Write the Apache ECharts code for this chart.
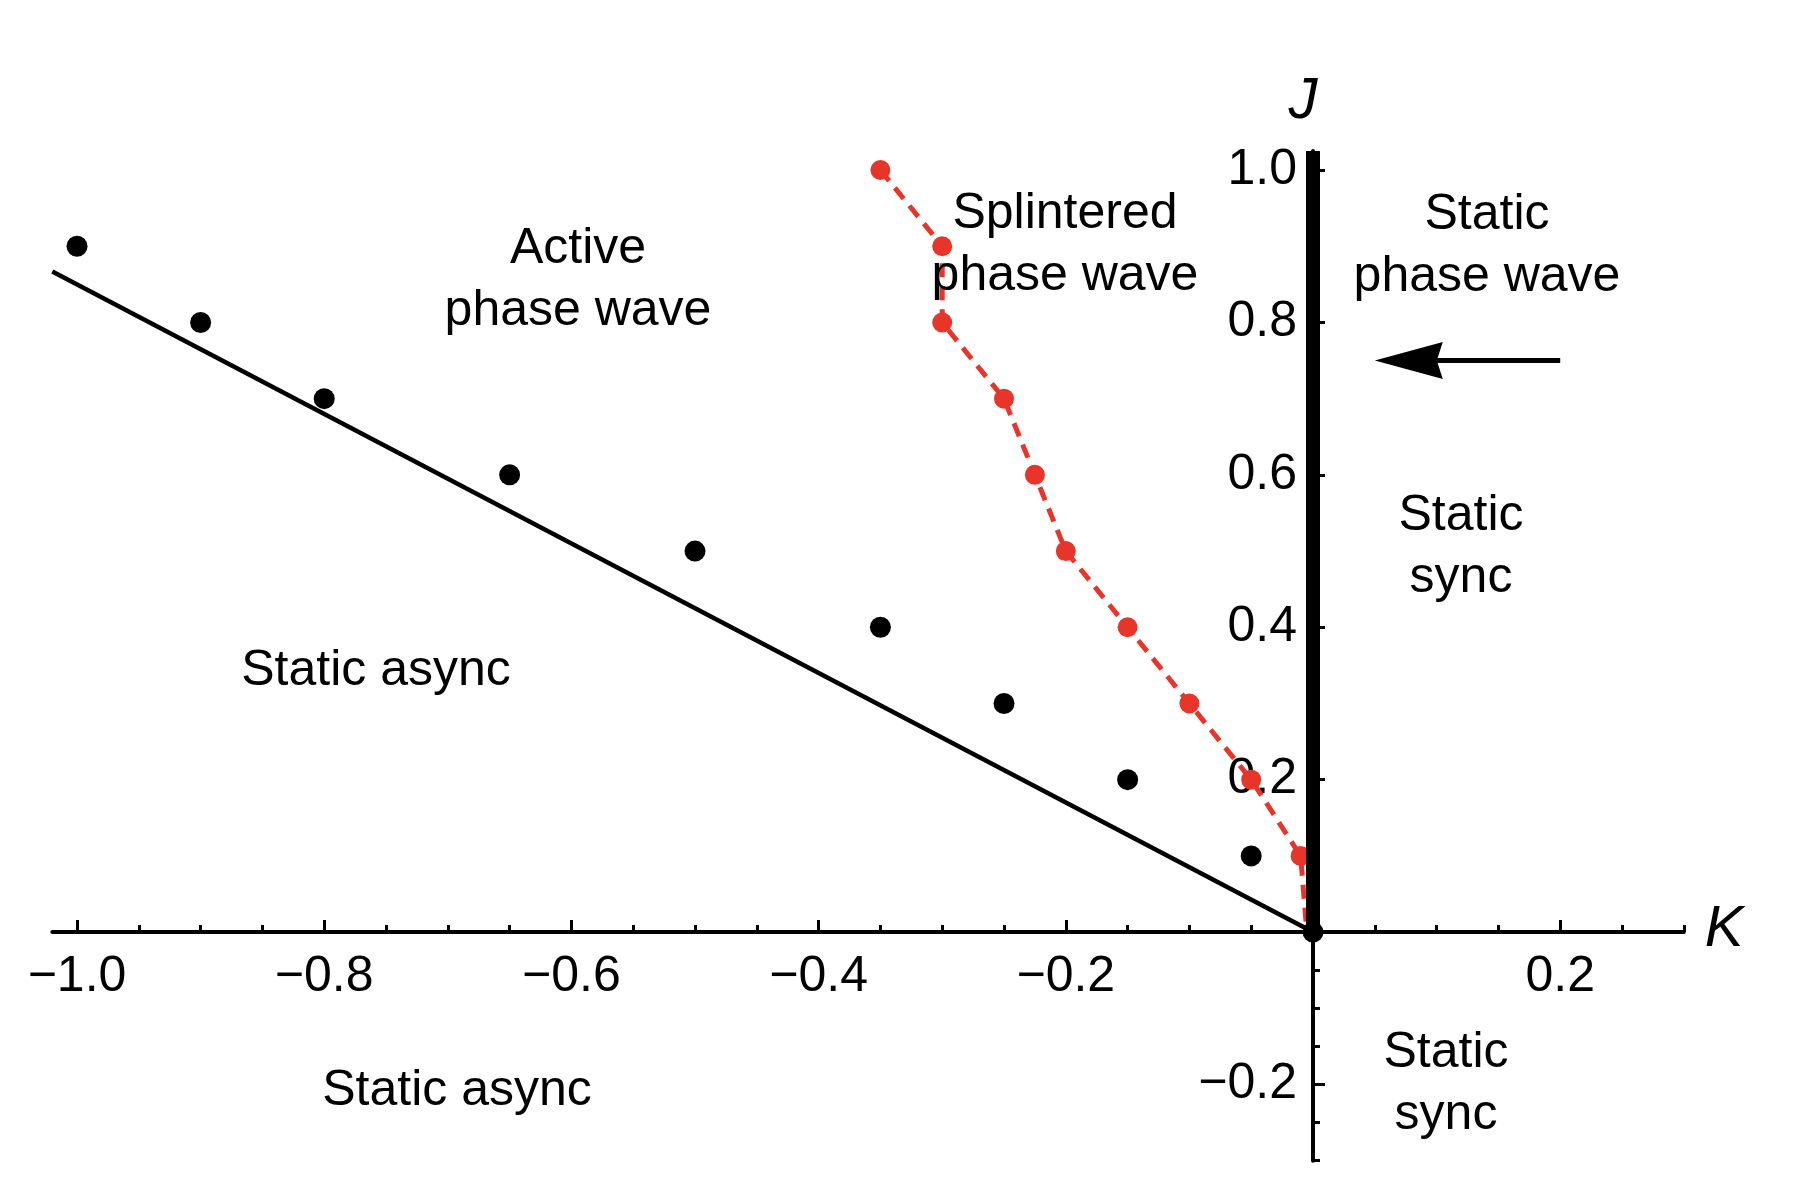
<!DOCTYPE html>
<html>
<head>
<meta charset="utf-8">
<script src="https://cdn.jsdelivr.net/npm/echarts@6/dist/echarts.min.js"></script>
<style>
html,body{margin:0;padding:0;background:#fff;}
#chart{width:1812px;height:1202px;}
</style>
</head>
<body>
<div id="chart"></div>
<script>
// ---- data ----
var blackK = [-1.0, -0.9, -0.8, -0.65, -0.5, -0.35, -0.25, -0.15, -0.05, 0];
var blackJ = [0.9, 0.8, 0.7, 0.6, 0.5, 0.4, 0.3, 0.2, 0.1, 0];
var redK = [-0.35, -0.3, -0.3, -0.25, -0.225, -0.2, -0.15, -0.1, -0.05, -0.01];
var redJ = [1.0, 0.9, 0.8, 0.7, 0.6, 0.5, 0.4, 0.3, 0.2, 0.1];
var redEnd = [-0.005, 0];
var boundaryK = [-1.02, 0];
var boundaryJ = [0.867, 0];
var syncBarK = [0, 0];
var syncBarJ = [0, 1.025];
var arrowFrom = [0.2, 0.75];
var arrowTo = [0.05, 0.75];
var xMajor = [-1.0, -0.8, -0.6, -0.4, -0.2, 0, 0.2];
var xLabels = [-1.0, -0.8, -0.6, -0.4, -0.2, 0.2];
var xMinor = [-0.95, -0.9, -0.85, -0.75, -0.7, -0.65, -0.55, -0.5, -0.45, -0.35, -0.3, -0.25, -0.15, -0.1, -0.05, 0.05, 0.1, 0.15, 0.25, 0.3];
var yMajor = [-0.2, 0, 0.2, 0.4, 0.6, 0.8, 1.0];
var yLabels = [-0.2, 0.2, 0.4, 0.6, 0.8, 1.0];
var yMinor = [-0.3, -0.25, -0.15, -0.1, -0.05, 0.05, 0.1, 0.15, 0.25, 0.3, 0.35, 0.45, 0.5, 0.55, 0.65, 0.7, 0.75, 0.85, 0.9, 0.95];

function zip(a, b) { return a.map(function (v, i) { return [v, b[i]]; }); }
function fmt(v) { return (v < 0 ? '\u2212' : '') + Math.abs(v).toFixed(1); }

var FONT = "'Liberation Sans', Arial, Helvetica, sans-serif";
var RED = '#E8352A';

// grid layout (pixels)
var G = { left: 52.3, top: 151, width: 1631.5, height: 1009.7 };
var X_MIN = -1.02, X_MAX = 0.3, Y_MIN = -0.3, Y_MAX = 1.025;
// offsets that put each axis on the other's zero
var xZeroPx = G.left + (0 - X_MIN) / (X_MAX - X_MIN) * G.width;
var yZeroPx = G.top + (Y_MAX - 0) / (Y_MAX - Y_MIN) * G.height;
var xAxisOffset = -(G.top + G.height - yZeroPx);
var yAxisOffset = -(xZeroPx - G.left);

var chart = echarts.init(document.getElementById('chart'));

var redData = zip(redK, redJ);
redData.push({ value: redEnd, symbol: 'none' });

function mkAxis(min, max, pos, offset, major, labels, tickLen, lineShow, margin) {
  return {
    type: 'value', min: min, max: max, position: pos, offset: offset,
    splitLine: { show: false },
    axisLine: { show: lineShow, onZero: false, lineStyle: { color: '#000', width: 4 } },
    axisTick: { show: true, inside: true, length: tickLen, customValues: major, lineStyle: { color: '#000', width: 3 } },
    axisLabel: labels ? { show: true, customValues: labels, formatter: fmt, fontSize: 50, fontFamily: FONT, color: '#000', margin: margin } : { show: false }
  };
}

function txt(text, x, y, size, italic) {
  return {
    type: 'text', x: x, y: y, z: 100,
    style: {
      text: text, fill: '#000', align: 'center', verticalAlign: 'middle',
      font: (italic ? 'italic ' : '') + size + 'px ' + FONT, lineHeight: 62
    }
  };
}

var option = {
  backgroundColor: '#fff',
  animation: false,
  grid: { left: G.left, top: G.top, width: G.width, height: G.height, containLabel: false, outerBoundsMode: 'none' },
  xAxis: [
    mkAxis(X_MIN, X_MAX, 'bottom', xAxisOffset, xMajor, xLabels, 12, true, 20),
    mkAxis(X_MIN, X_MAX, 'bottom', xAxisOffset, xMinor, null, 7, false, 0)
  ],
  yAxis: [
    mkAxis(Y_MIN, Y_MAX, 'left', yAxisOffset, yMajor, yLabels, 12, true, 16),
    mkAxis(Y_MIN, Y_MAX, 'left', yAxisOffset, yMinor, null, 7, false, 0)
  ],
  series: [
    {
      type: 'line', name: 'boundary', data: zip(boundaryK, boundaryJ), symbol: 'none', clip: false,
      lineStyle: { color: '#000', width: 4.5 }, z: 3
    },
    {
      type: 'line', name: 'splintered', data: redData, clip: false,
      symbol: 'circle', symbolSize: 20, showSymbol: true,
      itemStyle: { color: RED, opacity: 1 },
      lineStyle: { color: RED, width: 5, type: [14, 9] }, z: 4
    },
    {
      type: 'line', name: 'syncBar', data: zip(syncBarK, syncBarJ), symbol: 'none', clip: false,
      lineStyle: { color: '#000', width: 14, cap: 'butt' }, z: 5
    },
    {
      type: 'scatter', name: 'points', data: zip(blackK, blackJ), symbol: 'circle', symbolSize: 21,
      itemStyle: { color: '#000', opacity: 1 }, clip: false, z: 6
    },
    {
      type: 'custom', name: 'arrow', clip: false, z: 6,
      data: [[arrowFrom[0], arrowFrom[1], arrowTo[0], arrowTo[1]]],
      encode: { x: [0, 2], y: [1, 3] },
      renderItem: function (params, api) {
        var a = api.coord([api.value(0), api.value(1)]);
        var b = api.coord([api.value(2), api.value(3)]);
        var dx = b[0] - a[0], dy = b[1] - a[1];
        var len = Math.sqrt(dx * dx + dy * dy);
        var ux = dx / len, uy = dy / len, px = -uy, py = ux;
        var hl = 68, hw = 18.5, notch = 6;
        var base = [b[0] - ux * hl, b[1] - uy * hl];
        var nb = [b[0] - ux * (hl - notch), b[1] - uy * (hl - notch)];
        return {
          type: 'group',
          children: [
            { type: 'line', shape: { x1: a[0], y1: a[1], x2: nb[0], y2: nb[1] }, style: { stroke: '#000', lineWidth: 5 } },
            { type: 'polygon', shape: { points: [b, [base[0] + px * hw, base[1] + py * hw], nb, [base[0] - px * hw, base[1] - py * hw]] }, style: { fill: '#000' } }
          ]
        };
      }
    }
  ],
  graphic: [
    txt('Active\nphase wave', 578, 280, 50),
    txt('Splintered\nphase wave', 1065, 245, 50),
    txt('Static\nphase wave', 1487, 246, 50),
    txt('Static\nsync', 1461, 547, 50),
    txt('Static async', 376, 671, 50),
    txt('Static async', 457, 1091, 50),
    txt('Static\nsync', 1446, 1084, 50),
    txt('K', 1724, 930, 58, true),
    txt('J', 1303, 102, 58, true)
  ]
};
chart.setOption(option);
</script>
</body>
</html>
